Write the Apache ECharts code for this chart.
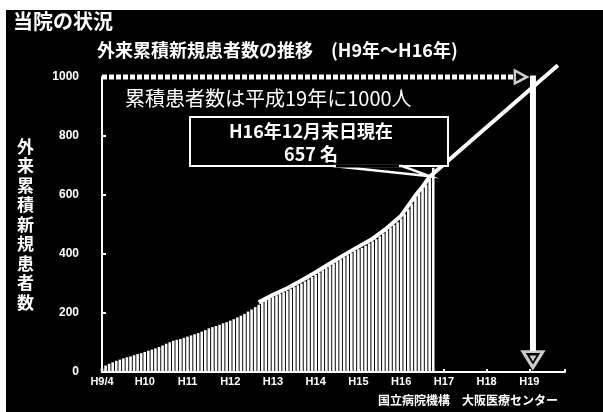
<!DOCTYPE html>
<html>
<head>
<meta charset="utf-8">
<script src="https://cdn.jsdelivr.net/npm/echarts@6/dist/echarts.min.js"></script>
<style>
  html, body { margin: 0; padding: 0; background: #fff; }
  #chart { width: 603px; height: 412px; }
</style>
</head>
<body>
<div id="chart"></div>
<script>
// Fiscal-year tick labels, one every 12 months starting from H9/4
const tickLabels = ['H9/4', 'H10', 'H11', 'H12', 'H13', 'H14', 'H15', 'H16', 'H17', 'H18', 'H19'];

// Cumulative new outpatients, month by month from H9/4 (index 0)
const cumulative = [
  12, 22, 28, 33, 38, 42, 46, 50, 53, 57, 61, 64,
  68, 72, 76, 80, 85, 90, 96, 101, 106, 109, 112, 116,
  120, 124, 128, 132, 137, 142, 148, 152, 156, 160, 165, 169,
  174, 179, 185, 191, 197, 205, 212, 220, 228, 236, 244, 249,
  254, 260, 265, 270, 275, 281, 288, 294, 300, 307, 314, 322,
  329, 337, 345, 352, 360, 368, 375, 382, 389, 396, 403, 410,
  416, 421, 428, 436, 443, 450, 460, 470, 480, 490, 499, 508,
  520, 535, 552, 570, 590, 605, 620, 635, 657, 692
];

// Growth trend traced over the bar tops and projected forward
const trendMonths = [44, 48, 52, 56, 60, 64, 68, 72, 76, 80, 84, 88, 90, 92, 128];
const trendValues = [236, 262, 284, 310, 338, 368, 397, 425, 452, 488, 530, 598, 628, 662, 1040];

// Target: 1000 patients reached in H19
const goalMonth = 121;
const goalValue = 1000;
const latestMonth = 92;   // H16/12
const latestValue = 657;

const yNameText = '外来累積新規患者数';
const titleText = '当院の状況';
const subtitleText = '外来累積新規患者数の推移　(H9年～H16年)';
const noteText = '累積患者数は平成19年に1000人';
const calloutLines = ['H16年12月末日現在', latestValue + ' 名'];
const footerText = '国立病院機構　大阪医療センター';

const CJK = '"Noto Sans CJK JP", "Noto Sans", sans-serif';
const LATIN = '"Liberation Sans", Arial, sans-serif';

const chart = echarts.init(document.getElementById('chart'), null, { renderer: 'canvas' });

const barData = cumulative.map((v, i) => [i, v]);
const trendData = trendMonths.map((m, i) => [m, trendValues[i]]);

chart.setOption({
  backgroundColor: '#000',
  animation: false,
  grid: { left: 102, right: 38, top: 77, bottom: 40, containLabel: false },
  xAxis: {
    type: 'value',
    min: 0,
    max: 130,
    interval: 12,
    axisLine: { show: true, lineStyle: { color: '#fff', width: 2 } },
    axisTick: { show: true, inside: true, length: 3, lineStyle: { color: '#fff', width: 2 } },
    splitLine: { show: false },
    axisLabel: {
      color: '#fff',
      fontFamily: LATIN,
      fontWeight: 'bold',
      fontSize: 11,
      margin: 4,
      formatter: (v) => (v % 12 === 0 && tickLabels[v / 12] !== undefined) ? tickLabels[v / 12] : ''
    }
  },
  yAxis: {
    type: 'value',
    min: 0,
    max: 1000,
    interval: 200,
    name: yNameText.split('').join('\n'),
    nameLocation: 'middle',
    nameRotate: 0,
    nameGap: 68,
    nameTextStyle: { color: '#fff', fontFamily: CJK, fontWeight: 'bold', fontSize: 17, lineHeight: 19.5 },
    axisLine: { show: true, lineStyle: { color: '#fff', width: 2 } },
    axisTick: { show: true, inside: true, length: 4, lineStyle: { color: '#fff', width: 2 } },
    splitLine: { show: false },
    axisLabel: {
      color: '#fff', fontFamily: LATIN, fontWeight: 'bold', fontSize: 12, margin: 23,
      formatter: (v) => String(v)
    }
  },
  series: [
    {
      type: 'bar',
      data: barData,
      barWidth: 2.6,
      itemStyle: { color: '#fff' },
      z: 2
    },
    {
      type: 'line',
      data: trendData,
      clip: false,
      symbol: 'none',
      smooth: false,
      lineStyle: { color: '#fff', width: 4 },
      z: 3
    },
    {
      // dashed guide at the 1000 mark
      type: 'line',
      data: [[0, goalValue], [goalMonth - 5, goalValue]],
      clip: false,
      symbol: 'none',
      lineStyle: { color: '#fff', width: 5, type: [5, 2] },
      z: 3
    },
    {
      // drop line down to H19
      type: 'line',
      data: [[goalMonth, goalValue + 5], [goalMonth, 70]],
      clip: false,
      symbol: 'none',
      lineStyle: { color: '#fff', width: 6 },
      z: 3
    },
    {
      type: 'scatter',
      data: [[goalMonth - 3.4, goalValue]],
      clip: false,
      symbol: 'triangle',
      symbolRotate: -90,
      symbolSize: [13, 12],
      itemStyle: { color: '#000', borderColor: '#fff', borderWidth: 2.5 },
      z: 4
    },
    {
      type: 'scatter',
      data: [[goalMonth, 42]],
      clip: false,
      symbol: 'triangle',
      symbolRotate: 180,
      symbolSize: [20, 16],
      itemStyle: { color: '#000', borderColor: '#fff', borderWidth: 3 },
      z: 4
    },
    {
      type: 'scatter',
      data: [[goalMonth, 46]],
      clip: false,
      symbol: 'triangle',
      symbolRotate: 180,
      symbolSize: [7, 6],
      itemStyle: { color: '#fff' },
      z: 5
    }
  ]
});

// Callout pointer tip sits on the H16/12 bar
const tip = chart.convertToPixel({ gridIndex: 0 }, [latestMonth, latestValue]);

const box = { x: 190, y: 117, w: 258, h: 49 };

chart.setOption({
  graphic: [
    { type: 'rect', shape: { x: 0, y: 0, width: 603, height: 10 }, style: { fill: '#fff' }, z: 10 },
    { type: 'rect', shape: { x: 0, y: 0, width: 6, height: 412 }, style: { fill: '#fff' }, z: 10 },
    {
      type: 'text', left: 13, top: 11, z: 10,
      style: { text: titleText, fill: '#fff', font: 'bold 20px ' + CJK }
    },
    {
      type: 'text', left: 97, top: 41, z: 10,
      style: { text: subtitleText, fill: '#fff', font: 'bold 18px ' + CJK }
    },
    {
      type: 'text', left: 125, top: 88, z: 10,
      style: { text: noteText, fill: '#fff', font: '20px ' + CJK }
    },
    {
      type: 'rect', z: 10,
      shape: { x: box.x, y: box.y, width: box.w, height: box.h },
      style: { fill: '#000', stroke: '#fff', lineWidth: 2 }
    },
    {
      type: 'text', z: 11,
      x: box.x + box.w / 2 - 8, y: box.y + 14,
      style: { text: calloutLines[0], fill: '#fff', font: 'bold 18px ' + CJK, align: 'center', verticalAlign: 'middle' }
    },
    {
      type: 'text', z: 11,
      x: box.x + box.w / 2 - 8, y: box.y + 37,
      style: { text: calloutLines[1], fill: '#fff', font: 'bold 18px ' + CJK, align: 'center', verticalAlign: 'middle' }
    },
    {
      type: 'polygon', z: 11,
      shape: { points: [[box.x + 143, box.y + box.h], [tip[0], tip[1] - 2], [box.x + 212, box.y + box.h]] },
      style: { fill: '#000', stroke: '#fff', lineWidth: 2.5 }
    },
    {
      type: 'line', z: 12,
      shape: { x1: box.x + 146, y1: box.y + box.h, x2: box.x + 209, y2: box.y + box.h },
      style: { stroke: '#000', lineWidth: 3 }
    },
    {
      type: 'text', z: 10,
      x: 558, y: 400,
      style: { text: footerText, fill: '#fff', font: 'bold 12px ' + CJK, align: 'right', verticalAlign: 'middle' }
    }
  ]
});
</script>
</body>
</html>
